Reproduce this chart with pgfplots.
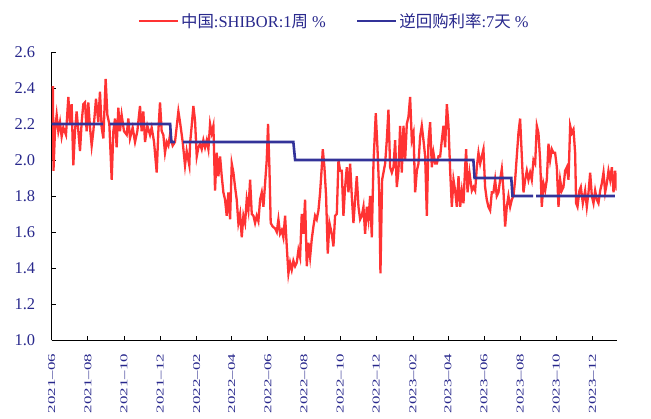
\documentclass[border=0pt]{standalone}
\usepackage{fontspec}
\setmainfont{Liberation Serif}
\newfontfamily\cjk{Noto Sans CJK SC}
\usepackage{graphicx}
\usepackage{pgfplots}
\pgfplotsset{compat=1.18}
\definecolor{shiborred}{RGB}{255,51,51}
\definecolor{reponavy}{RGB}{51,51,153}
\definecolor{labelblue}{RGB}{40,40,140}
\newcommand\sq[1]{\scalebox{1}[0.62]{#1}}
\begin{document}
\begin{tikzpicture}
\useasboundingbox (-51.7bp,-79bp) rectangle (599.3bp,340bp);
\begin{axis}[
  scale only axis,
  width=565bp, height=288bp,
  xmin=0, xmax=954, ymin=1, ymax=2.6,
  axis lines=left,
  axis line style={-, line width=1bp, black},
  tick align=inside,
  major tick length=4.5bp,
  tick style={black, line width=0.8bp},
  xtick={0,61,122,183,245,304,365,426,487,548,610,669,730,791,852,913},
  xticklabels={\sq{2021--06},\sq{2021--08},\sq{2021--10},\sq{2021--12},\sq{2022--02},\sq{2022--04},\sq{2022--06},\sq{2022--08},\sq{2022--10},\sq{2022--12},\sq{2023--02},\sq{2023--04},\sq{2023--06},\sq{2023--08},\sq{2023--10},\sq{2023--12}},
  ytick={1.0,1.2,1.4,1.6,1.8,2.0,2.2,2.4,2.6},
  /pgf/number format/assume math mode=true,
  yticklabel style={/pgf/number format/fixed, /pgf/number format/precision=1, /pgf/number format/fixed zerofill, xshift=-13bp},
  ticklabel style={font=\fontsize{16.5}{19}\selectfont, text=labelblue},
  xticklabel style={font=\fontsize{17}{19}\selectfont, rotate=90, anchor=east, xshift=-10.5bp},
  unbounded coords=jump,
  legend columns=2,
  legend style={at={(0.5,1)}, anchor=center, yshift=31bp, draw=none, fill=none,
    font=\fontsize{16.5}{20}\selectfont, text=labelblue,
    /tikz/every even column/.append style={column sep=28bp}},
  legend image code/.code={\draw[#1] (0bp,0bp) -- (39bp,0bp);},
]
\addplot[shiborred, line width=2.3bp] coordinates {
(2,2.41)(3,1.94)(5.5,2.16)(8.4,2.25)(11.2,2.16)(14,2.21)(16.8,2.13)(19.6,2.18)(24.1,2.14)(28.1,2.35)(30.9,2.20)(33.7,2.31)(36.5,1.97)(39.3,2.16)(42.1,2.27)(45,2.16)(47.8,2.05)(50.6,2.21)(53.4,2.31)(56.2,2.32)(59,2.16)(61.8,2.32)(64.7,2.18)(67.5,2.08)(70.3,2.16)(74.8,2.34)(78.7,2.21)(81.5,2.38)(84.4,2.18)(87.2,2.12)(91.1,2.45)(94,2.25)(97.3,2.20)(101.3,1.89)(104.1,2.16)(106.9,2.23)(109.7,2.07)(112.5,2.29)(115.3,2.16)(118.1,2.25)(122.1,2.16)(126.6,2.14)(129.4,2.23)(132.2,2.12)(136.7,2.18)(140.7,2.10)(144.6,2.16)(149.1,2.30)(151.9,2.16)(154.7,2.27)(157.6,2.10)(161.5,2.19)(166,2.14)(168.8,2.18)(172.8,2.10)(177.3,1.93)(180.1,2.16)(182.9,2.32)(185.7,2.16)(188.5,2.14)(191.3,2.04)(194.2,2.10)(197,2.08)(199.8,2.14)(204.3,2.08)(208.2,2.10)(213.9,2.27)(216.7,2.21)(221.2,2.10)(225.1,1.97)(227.9,2.05)(232.4,1.97)
(233.6,2.09)(236.4,2.19)(239.2,2.30)(242,2.22)(244.9,2.02)(247.7,2.07)(250.5,2.09)(253.3,2.06)(256.1,2.11)(258.9,2.07)(261.8,2.11)(264.6,2.06)(267.4,2.20)(270.2,2.15)(273,2.19)(275.8,1.83)(278.6,2.04)(281.5,1.91)(284.3,2.02)(287.1,1.91)(289.9,1.82)(292.7,1.78)(295.5,1.69)(298.3,1.82)(301.2,1.67)(304,1.98)(306.8,1.93)(309.6,1.85)(312.4,1.78)(315.2,1.65)(318.1,1.70)(320.9,1.57)(323.7,1.69)(326.5,1.65)(329.3,1.78)(332.1,1.72)(335,1.89)(337.8,1.70)(340.6,1.69)(343.4,1.65)(346.2,1.69)(349,1.66)(351.9,1.78)(354.7,1.82)(357.5,1.74)(360.3,1.87)(363.1,2.00)(365.3,2.20)(367.6,1.96)(369.8,1.65)(373.2,1.63)(377.2,1.62)(380,1.60)(382.8,1.67)(385.6,1.59)(388.4,1.61)(391.2,1.57)(394.1,1.69)(396.9,1.52)(399.7,1.37)(402.5,1.43)(405.3,1.39)(408.1,1.44)(411,1.41)(413.8,1.43)(416.6,1.50)(419.4,1.46)(422.2,1.70)(425,1.59)(427.8,1.78)(430.7,1.41)(433.5,1.54)(436.3,1.46)(439.1,1.56)(441.9,1.63)(444.7,1.69)(447.5,1.67)(450.4,1.72)(453.2,1.82)(456,1.96)(457.7,2.06)(460.5,1.96)(463.3,1.80)(466.1,1.48)(469,1.65)
(472.9,1.59)(475.7,1.52)(478.5,1.69)(481.4,1.70)(484.2,2.00)(487,1.94)(489.8,1.94)(492.6,1.69)(495.4,1.85)(498.3,1.96)(501.1,1.82)(503.9,1.98)(506.7,1.80)(509.5,1.65)(512.3,1.78)(515.1,1.91)(518,1.74)(520.8,1.67)(523.6,1.69)(526.4,1.74)(529.2,1.59)(532,1.74)(534.8,1.67)(537.7,1.80)(540.5,1.57)(543.3,1.98)(547.2,2.26)(550,2.07)(552.9,1.83)(555.1,1.37)(557.9,1.89)(560.2,1.93)(563,1.98)(565.8,2.11)(568.6,2.28)(571.4,1.96)(574.3,1.93)(577.1,1.96)(579.9,2.11)(582.7,1.85)(585.5,1.94)(588.3,2.19)(591.1,1.93)(594,2.19)(596.8,2.00)(599.6,2.20)(602.4,2.24)(605.2,2.35)(608,2.11)(610.9,2.15)(613.7,1.82)(616.5,1.94)(619.3,1.98)(622.1,2.13)(624.9,2.19)(627.7,2.11)(630.6,2.02)(633.4,1.69)(636.2,2.11)(639,2.21)(641.8,1.96)(644.6,2.04)(647.5,1.98)(650.3,1.98)(653.1,2.02)(655.9,2.02)(658.7,2.11)(661.5,2.19)(664.3,2.07)(667.2,2.31)(670,2.19)(672.8,1.94)(675.6,1.74)(678.4,1.89)(681.2,1.83)(684,1.74)(686.9,1.91)(689.7,1.74)(692.5,1.83)(695.3,1.76)(698.1,1.96)(699.8,2.06)(702.1,1.82)(705.4,1.93)(709.4,1.83)(712.2,1.85)(715,1.83)(717.8,1.96)(720.6,2.04)(723.5,1.98)
(729,2.06)(731.8,1.85)(734.6,1.78)(737.4,1.74)(740.3,1.72)(743.1,1.82)(745.9,1.82)(748.7,1.89)(751.5,1.80)(754.3,1.82)(757.2,1.89)(760,1.95)(762.8,1.83)(765.6,1.63)(768.4,1.74)(771.2,1.80)(774.1,1.74)(776.9,1.78)(779.7,1.80)(782.5,1.89)(785.3,2.02)(788.1,2.15)(790.9,2.23)(793.8,2.02)(796.6,1.82)(799.4,1.89)(802.2,1.94)(805,1.89)(807.8,1.93)(810.6,1.89)(813.5,2.00)(816.3,1.98)(819.1,2.19)(821.9,2.15)(824.7,2.00)(827.5,1.74)(830.3,1.87)(833.2,1.83)(836,1.89)(838.8,2.09)(841.6,2.00)(844.4,2.06)(847.2,2.04)(850,2.04)(852.9,1.96)(855.7,1.74)(858.5,1.89)(861.3,1.83)(864.1,1.85)(866.9,1.94)(869.8,1.96)(872.6,1.89)(875.4,2.19)(878.2,2.15)(881,2.17)(883.8,2.04)(885.5,1.76)(887.8,1.74)(891.1,1.83)(893.4,1.85)(896.8,1.76)(900.7,1.83)(903.5,1.74)(906.4,1.82)(909.2,1.93)(912,1.80)(914.8,1.76)(917.6,1.83)(920.4,1.78)(923.2,1.76)(926.1,1.83)(928.9,1.87)(931.7,1.93)(934.5,1.82)(937.3,1.87)(940.1,1.94)(943,1.89)(945.8,1.96)(948.6,1.82)(951.4,1.94)(954,1.83)
};
\addlegendentry{{\cjk 中国}:SHIBOR:1{\cjk 周} \%}
\addplot[reponavy, line width=2.6bp] coordinates {
(0,2.2)(87,2.2)(92,nan)(98,2.2)(200,2.2)(202,2.1)(208,2.1)(215,nan)(222,2.1)(408,2.1)(411,2.0)(712,2.0)(714,1.9)(776,1.9)(778,1.8)(813,1.8)(815,nan)(818,1.8)(951,1.8)
};
\addlegendentry{{\cjk 逆回购利率}:7{\cjk 天} \%}
\end{axis}
\end{tikzpicture}
\end{document}
